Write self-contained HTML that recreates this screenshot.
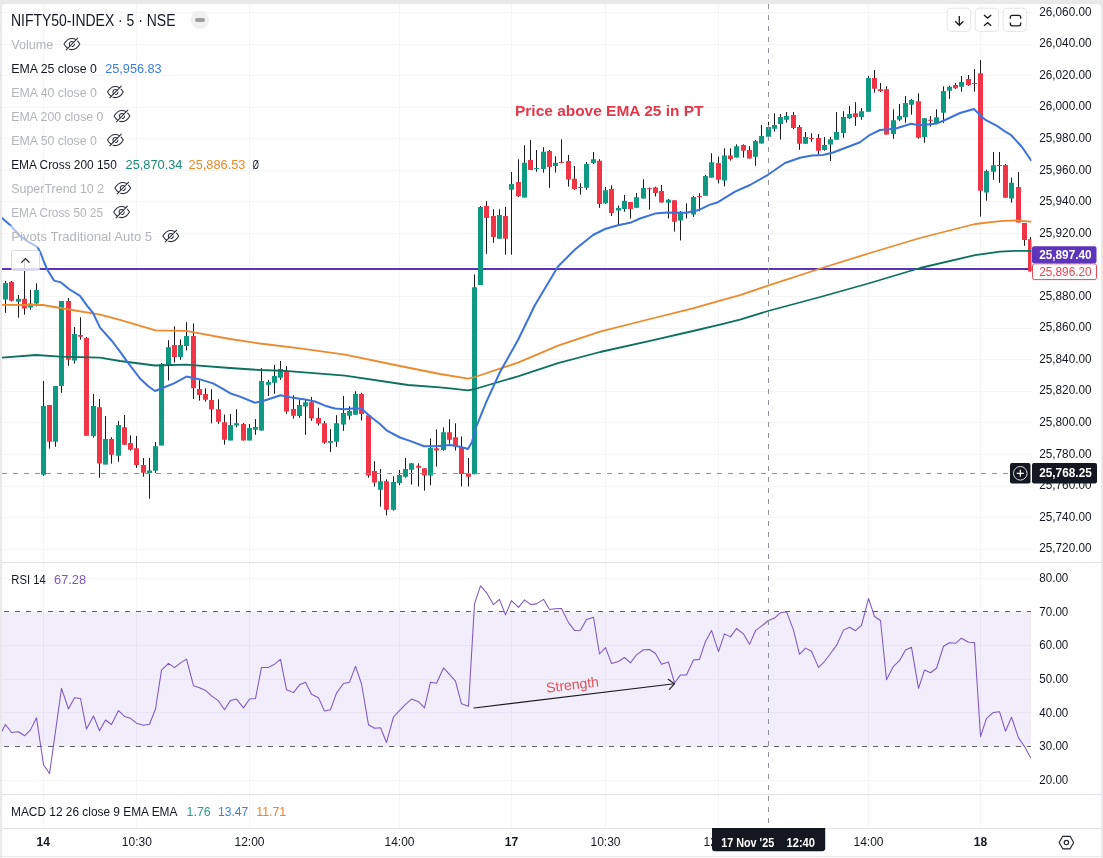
<!DOCTYPE html>
<html lang="en"><head><meta charset="utf-8"><title>NIFTY50-INDEX chart</title>
<style>
html,body{margin:0;padding:0;background:#e9e9e9;}
body{width:1103px;height:858px;overflow:hidden;font-family:'Liberation Sans', sans-serif;}
svg{display:block;}
text{font-family:'Liberation Sans', sans-serif;}
</style></head><body>
<svg width="1103" height="858" viewBox="0 0 1103 858">
<rect x="0" y="0" width="1103" height="858" fill="#e9e9e9"/>
<rect x="2" y="4" width="1099" height="852.5" rx="3.5" ry="3.5" fill="#ffffff"/>
<rect x="2" y="840" width="1099" height="18" fill="#ffffff"/>
<g stroke="#f5f5f5" stroke-width="1" shape-rendering="crispEdges">
<line x1="43.5" y1="4" x2="43.5" y2="828"/>
<line x1="136.5" y1="4" x2="136.5" y2="828"/>
<line x1="249.5" y1="4" x2="249.5" y2="828"/>
<line x1="399.5" y1="4" x2="399.5" y2="828"/>
<line x1="511.5" y1="4" x2="511.5" y2="828"/>
<line x1="605.5" y1="4" x2="605.5" y2="828"/>
<line x1="718.5" y1="4" x2="718.5" y2="828"/>
<line x1="868.5" y1="4" x2="868.5" y2="828"/>
<line x1="980.5" y1="4" x2="980.5" y2="828"/>
<line x1="2" y1="12.5" x2="1031.5" y2="12.5"/>
<line x1="2" y1="44.5" x2="1031.5" y2="44.5"/>
<line x1="2" y1="75.5" x2="1031.5" y2="75.5"/>
<line x1="2" y1="107.5" x2="1031.5" y2="107.5"/>
<line x1="2" y1="138.5" x2="1031.5" y2="138.5"/>
<line x1="2" y1="170.5" x2="1031.5" y2="170.5"/>
<line x1="2" y1="201.5" x2="1031.5" y2="201.5"/>
<line x1="2" y1="233.5" x2="1031.5" y2="233.5"/>
<line x1="2" y1="265.5" x2="1031.5" y2="265.5"/>
<line x1="2" y1="296.5" x2="1031.5" y2="296.5"/>
<line x1="2" y1="328.5" x2="1031.5" y2="328.5"/>
<line x1="2" y1="359.5" x2="1031.5" y2="359.5"/>
<line x1="2" y1="391.5" x2="1031.5" y2="391.5"/>
<line x1="2" y1="422.5" x2="1031.5" y2="422.5"/>
<line x1="2" y1="454.5" x2="1031.5" y2="454.5"/>
<line x1="2" y1="486.5" x2="1031.5" y2="486.5"/>
<line x1="2" y1="517.5" x2="1031.5" y2="517.5"/>
<line x1="2" y1="549.5" x2="1031.5" y2="549.5"/>
<line x1="2" y1="578.5" x2="1031.5" y2="578.5"/>
<line x1="2" y1="645.5" x2="1031.5" y2="645.5"/>
<line x1="2" y1="679.5" x2="1031.5" y2="679.5"/>
<line x1="2" y1="712.5" x2="1031.5" y2="712.5"/>
<line x1="2" y1="780.5" x2="1031.5" y2="780.5"/>
</g>
<rect x="2" y="611.89" width="1029" height="134.76" fill="#f1edfa"/>
<g stroke="#e8e4f3" stroke-width="1" shape-rendering="crispEdges">
<line x1="2" y1="645.5" x2="1031" y2="645.5"/>
<line x1="2" y1="679.5" x2="1031" y2="679.5"/>
<line x1="2" y1="712.5" x2="1031" y2="712.5"/>
<line x1="43.5" y1="611.89" x2="43.5" y2="746.65"/>
<line x1="136.5" y1="611.89" x2="136.5" y2="746.65"/>
<line x1="249.5" y1="611.89" x2="249.5" y2="746.65"/>
<line x1="399.5" y1="611.89" x2="399.5" y2="746.65"/>
<line x1="511.5" y1="611.89" x2="511.5" y2="746.65"/>
<line x1="605.5" y1="611.89" x2="605.5" y2="746.65"/>
<line x1="718.5" y1="611.89" x2="718.5" y2="746.65"/>
<line x1="868.5" y1="611.89" x2="868.5" y2="746.65"/>
<line x1="980.5" y1="611.89" x2="980.5" y2="746.65"/>
</g>
<g stroke="#5d5f66" stroke-width="1" stroke-dasharray="5 6" shape-rendering="crispEdges">
<line x1="3.5" y1="611.5" x2="1031" y2="611.5"/>
<line x1="3.5" y1="746.5" x2="1031" y2="746.5"/>
</g>
<g stroke="#e1e2e7" stroke-width="1" shape-rendering="crispEdges">
<line x1="2" y1="562.5" x2="1101" y2="562.5"/>
<line x1="2" y1="794.5" x2="1101" y2="794.5"/>
<line x1="2" y1="828.5" x2="1101" y2="828.5"/>
<line x1="2" y1="856.5" x2="1101" y2="856.5" stroke="#e9e9ec"/>
</g>
<defs><clipPath id="cm"><rect x="2" y="4" width="1029.5" height="558"/></clipPath>
<clipPath id="cr"><rect x="2" y="563" width="1029.5" height="231"/></clipPath></defs>
<line x1="2" y1="269" x2="1031.5" y2="269" stroke="#5c33b8" stroke-width="2"/>
<g clip-path="url(#cm)">
<path d="M5.5 280.9V312.9M11.5 281V301.5M18.5 295V317.7M24.5 259V314.7M30.5 290V309.7M36.5 283.3V306.4M43.5 381V475.8M49.5 405V448.6M55.5 386V446.7M61.5 301V392.8M68.5 298V365.8M74.5 327V363.6M80.5 317.3V339.7M86.5 337V435.8M93.5 394V437.6M99.5 399V477.7M105.5 416V464.5M111.5 437.3V463.6M118.5 421V461.8M124.5 415V444.8M130.5 435.3V450.7M136.5 436V468M143.5 458V476.7M149.5 458V498.7M155.5 442V472.8M161.5 363V445.5M168.5 340.2V380.5M174.5 326.3V362.6M180.5 339.4V359.8M186.5 322.2V350.5M193.5 323.4V399M199.5 380.2V400.6M205.5 388.3V401.7M211.5 389.2V423.4M218.5 399.4V423.8M224.5 414.5V444.6M230.5 414V440.4M236.5 409.2V427.4M243.5 423V440.4M249.5 424V440.4M255.5 419V434.8M261.5 368V430.6M268.5 379.9V396M274.5 364.9V393.8M280.5 361V379.9M286.5 365.9V413.8M293.5 395.2V418.6M299.5 399.4V417.9M305.5 400V434.8M311.5 397V420.8M318.5 407.8V425.6M324.5 421V443.8M330.5 429.2V451.9M336.5 415.2V446.8M343.5 396V430.8M349.5 406.2V419.6M355.5 391.2V414.7M361.5 392.8V420.6M368.5 415.2V477.7M374.5 461.2V486.5M380.5 469V506.6M386.5 479.3V515.5M393.5 476.4V510.6M399.5 470V485.3M405.5 458V477.7M411.5 463.3V484.5M418.5 463.3V486.5M424.5 468.2V490.7M430.5 438.4V485.3M436.5 429.4V466.6M443.5 427.4V450.8M449.5 419.3V443.7M455.5 423.3V450.6M461.5 436.4V486.5M468.5 458V486.5M474.5 274.5V474.2M480.5 206V285M486.5 201.2V253.9M493.5 209.3V242.8M499.5 209.3V238.7M505.5 206.9V254.7M511.5 172V254.7M518.5 159.3V197M524.5 145.2V197.6M530.5 139.9V170M536.5 150V171.8M543.5 147.3V172.6M549.5 150V187.8M555.5 156.3V172.6M561.5 139.3V163M568.5 155V186.5M574.5 166V189.8M580.5 183.2V194.7M586.5 162V189.8M593.5 152V164M599.5 159.2V207.8M605.5 187V204M611.5 185.3V216M618.5 205.6V225.2M624.5 195V211.7M630.5 202V218.6M636.5 193.1V207.7M643.5 179.3V198.6M649.5 187.5V209.5M655.5 186.7V196.5M661.5 185V202.5M668.5 199V218.5M674.5 200.2V231.6M680.5 211V240.5M686.5 203.3V218.5M693.5 196V216.9M699.5 193.2V211.2M705.5 175V195.7M711.5 153.2V177.7M718.5 156.5V183.4M724.5 148.3V186.4M730.5 148.3V160.6M736.5 144.3V157.6M743.5 144.3V157.6M749.5 146.2V158.6M755.5 140V165.8M761.5 125V143.6M768.5 121.8V140.5M774.5 113.3V131.6M780.5 114V139.7M786.5 112V122.6M793.5 112V129M799.5 125V149.8M805.5 132V143.8M811.5 133.2V141.7M818.5 134V154.4M824.5 137V150.8M830.5 137V161M836.5 112V139.7M843.5 111.2V137.8M849.5 106V119M855.5 102.2V125.9M861.5 108V119.8M868.5 75.8V111.7M874.5 70V92.7M880.5 83V92M886.5 86.3V134.6M893.5 109.3V138.8M899.5 104V121M905.5 96V122.8M911.5 98.9V114.6M918.5 93.3V138.8M924.5 118.2V142.7M930.5 116V126.6M936.5 109.3V123M943.5 86.3V122.8M949.5 85.8V98.8M955.5 83V89M961.5 76V91.7M968.5 75V85.8M974.5 69V91.7M980.5 60.1V216.6M986.5 169.7V200.7M993.5 152V179.9M999.5 152V182.8M1005.5 164V197.7M1011.5 177.6V202.6M1018.5 172V222.5M1024.5 223V245.8M1030.5 237V271.5" stroke="#1b1b1f" stroke-width="1" fill="none"/>
<path d="M3 282.9h5V299.5h-5zM16 298.8h5V301.8h-5zM28 303.6h5V307.6h-5zM34 290h5V303.6h-5zM41 406h5V474.7h-5zM53 386h5V441.8h-5zM59 301h5V386h-5zM72 334h5V360.6h-5zM91 406h5V436h-5zM103 439h5V464.5h-5zM116 425h5V455.8h-5zM147 470.4h5V473h-5zM153 446.2h5V470.7h-5zM159 364.3h5V445.5h-5zM166 347.2h5V365.2h-5zM178 345h5V357h-5zM184 336h5V346h-5zM228 425h5V440.4h-5zM234 423.2h5V425.6h-5zM247 428h5V440.4h-5zM253 427h5V429.8h-5zM259 381h5V430.6h-5zM266 382h5V384.8h-5zM272 376h5V382.7h-5zM278 369h5V377.8h-5zM297 405h5V416h-5zM303 402.2h5V406.4h-5zM328 441h5V442.8h-5zM334 423.3h5V441.8h-5zM341 413h5V424.5h-5zM347 411h5V415.7h-5zM353 394h5V414.7h-5zM378 481.3h5V489.7h-5zM391 482h5V509.8h-5zM397 475h5V482.9h-5zM403 469h5V476.7h-5zM409 463.3h5V469.8h-5zM428 448h5V475.6h-5zM441 432.3h5V450h-5zM472 287.2h5V474.2h-5zM478 206.9h5V285h-5zM497 215h5V238.7h-5zM509 184h5V189.8h-5zM522 162.8h5V197.6h-5zM534 168h5V169h-5zM541 151.7h5V169h-5zM553 162.8h5V166h-5zM578 187h5V188h-5zM584 164h5V187.8h-5zM591 159.2h5V163h-5zM603 190.2h5V203.2h-5zM616 208h5V210.5h-5zM622 200.8h5V209h-5zM634 197.2h5V207.7h-5zM641 188h5V198.6h-5zM666 199.7h5V202.7h-5zM678 212.8h5V220.6h-5zM684 212.3h5V213.3h-5zM691 197h5V214.4h-5zM703 176h5V195.7h-5zM709 162.2h5V177.7h-5zM722 155.4h5V180.6h-5zM734 146.2h5V157.6h-5zM753 141h5V156.8h-5zM759 136h5V143.6h-5zM766 127h5V136.8h-5zM772 125h5V128.8h-5zM778 116.9h5V123.9h-5zM784 116h5V119.8h-5zM803 137h5V143.8h-5zM822 145h5V150h-5zM828 139.2h5V144.6h-5zM834 132h5V139.7h-5zM841 116.9h5V132.9h-5zM847 114h5V118.2h-5zM859 111.2h5V116.9h-5zM866 78h5V111.7h-5zM891 120.3h5V133.9h-5zM897 116h5V119.8h-5zM903 103h5V117.2h-5zM909 99.9h5V104.8h-5zM922 118.2h5V137h-5zM934 117.2h5V123h-5zM941 91h5V112.8h-5zM947 86.8h5V90.8h-5zM959 82h5V86.8h-5zM984 171h5V192.4h-5zM991 165.3h5V171.8h-5zM997 165h5V166h-5zM1009 182.8h5V198.6h-5z" fill="#0d9982"/>
<path d="M9 281.8h5V300.8h-5zM22 298.8h5V308.6h-5zM47 405h5V441.8h-5zM66 301h5V359.7h-5zM78 335h5V336.7h-5zM84 338h5V435.8h-5zM97 407.3h5V463.6h-5zM109 439h5V454.7h-5zM122 427.3h5V444.8h-5zM128 443h5V449.7h-5zM134 448.3h5V465h-5zM141 465h5V472.8h-5zM172 345h5V357h-5zM191 336h5V388.3h-5zM197 389h5V394.9h-5zM203 394h5V399.8h-5zM209 400h5V409.6h-5zM216 409.2h5V421.8h-5zM222 422.3h5V439.8h-5zM241 424h5V440.4h-5zM284 370.8h5V411.6h-5zM291 409h5V415.8h-5zM309 402.2h5V418.6h-5zM316 418h5V423.6h-5zM322 423.2h5V442.8h-5zM359 394h5V414h-5zM366 415.2h5V475.6h-5zM372 471h5V482.6h-5zM384 481.3h5V509.8h-5zM416 465.8h5V467.7h-5zM422 468.2h5V475.6h-5zM434 448.3h5V450.6h-5zM447 432.3h5V439.7h-5zM453 437.2h5V446.2h-5zM459 447h5V474h-5zM466 473.4h5V476.7h-5zM484 206h5V218h-5zM491 215.9h5V237h-5zM503 215.9h5V238.7h-5zM516 182h5V196.3h-5zM528 160h5V170h-5zM547 151h5V167h-5zM559 162h5V163h-5zM566 160.9h5V179.6h-5zM572 178.8h5V189h-5zM597 160.8h5V204h-5zM609 189h5V213h-5zM628 202h5V209h-5zM647 188.3h5V189.3h-5zM653 187.5h5V193h-5zM659 191h5V202.5h-5zM672 200.2h5V221.8h-5zM697 196h5V197h-5zM716 163h5V179.8h-5zM728 155.4h5V159h-5zM741 145h5V150.8h-5zM747 150h5V158.6h-5zM791 115h5V128h-5zM797 127h5V143.8h-5zM809 138h5V139h-5zM816 138h5V150.8h-5zM853 113.3h5V116.9h-5zM872 78h5V88.7h-5zM878 89.3h5V91h-5zM884 89.3h5V134.6h-5zM916 101.3h5V137.8h-5zM928 119.8h5V120.8h-5zM953 85h5V88.2h-5zM966 79h5V84.9h-5zM972 83h5V84h-5zM978 73.2h5V190.7h-5zM1003 165h5V197.7h-5zM1016 186.9h5V222.5h-5zM1022 223h5V240h-5zM1028 239.3h5V271.5h-5z" fill="#f03546"/>
<path d="M2 304.8 L43 305 L60 308 L100 314.7 L120 319.8 L155.6 330.4 L186 330.9 L230 339 L260 343.5 L300 348.4 L345 354.7 L400 366 L440 374 L468 378.7 L475 377 L518 362.6 L558 345.7 L600 331.7 L650 319 L693 308.4 L720 300.6 L740 295.2 L768 285.7 L822 268 L870 253 L920 238 L975 224 L1000 221.2 L1015 220.4 L1031 221.7" fill="none" stroke="#ec8a2c" stroke-width="1.8" stroke-linejoin="round" stroke-linecap="round"/>
<path d="M2 357.6 L36 355 L60 356.7 L100 357.6 L120 361 L155 365.5 L186 364.7 L230 368 L260 370 L285 370.8 L320 373.6 L345 375.7 L408 385 L440 387.4 L450 388.3 L468 390.3 L475 389 L518 376.3 L558 363.2 L600 352 L650 340.8 L693 331 L720 324.7 L740 319.7 L768 311 L822 296.5 L870 283 L920 268 L975 255.2 L1000 251.7 L1015 250.9 L1031 250.9" fill="none" stroke="#0c715e" stroke-width="1.8" stroke-linejoin="round" stroke-linecap="round"/>
<path d="M2 218 L10 225 L20 236 L27 241 L37.5 247 L41 254 L44 262 L47.5 270 L54 280.6 L61 282.4 L69 289 L80 295.8 L87 305.6 L93 313 L100 327.6 L112 341 L120 351.6 L127 361.4 L140 378.5 L148 386 L155 391 L165 387 L174 383.4 L186.5 376.6 L200 379.4 L213 383.4 L222 388.3 L230 393.2 L240 396.6 L255 402.7 L262 401.3 L270 398.7 L280.5 395.2 L290 397.3 L305 399.4 L315 401.5 L325 405.7 L335 408.5 L345 409.2 L355 408.3 L362 409 L370 416.3 L380 424 L387 430.7 L400 437.5 L412 441.6 L424 446.2 L437 446.2 L450 444.9 L460 446.7 L468 449 L472 442 L475 430 L486 402.6 L500 372 L518 340 L535 305 L558 266.5 L575 249.5 L593 235 L605 229 L618 225.2 L630 222.8 L640 218.5 L655 213.6 L667 212.5 L686 212.8 L698 210.3 L710 204.6 L718 202.2 L735 191.6 L750 185 L768 174.8 L785 163 L800 157.7 L812 155.6 L823 155 L833 152.5 L845 148 L860 142.2 L870 134.8 L880 130 L895 128.7 L911 123.8 L920 125.2 L937 123.4 L945 120 L960 113 L974 109 L981 116 L985 119.6 L997 125.9 L1004 130.8 L1011 135 L1022 147 L1031 160.3" fill="none" stroke="#3b72dc" stroke-width="2" stroke-linejoin="round" stroke-linecap="round"/>
</g>
<g clip-path="url(#cr)">
<path d="M2 731.22 L5.5 724.52 L11.5 732.56 L18.5 731.76 L24.5 735.78 L30.5 729.88 L36.5 717.82 L43.5 764.73 L49.5 773.58 L55.5 731.22 L61.5 688.32 L68.5 708.97 L74.5 697.71 L80.5 698.51 L86.5 729.08 L93.5 715.94 L99.5 730.68 L105.5 719.96 L111.5 724.52 L118.5 710.58 L124.5 716.47 L130.5 718.35 L136.5 723.18 L143.5 725.32 L149.5 724.25 L155.5 708.97 L161.5 670.09 L168.5 663.39 L174.5 667.68 L180.5 662.86 L186.5 659.1 L193.5 685.64 L199.5 687.79 L205.5 690.47 L211.5 695.83 L218.5 700.92 L224.5 709.77 L230.5 700.39 L236.5 699.05 L243.5 707.9 L249.5 699.05 L255.5 698.51 L261.5 667.41 L268.5 667.41 L274.5 664.2 L280.5 659.37 L286.5 689.66 L293.5 692.61 L299.5 684.84 L305.5 682.16 L311.5 694.22 L318.5 697.71 L324.5 711.11 L330.5 709.77 L336.5 693.15 L343.5 683.5 L349.5 682.16 L355.5 666.34 L361.5 683.77 L368.5 724.79 L374.5 728.27 L380.5 727.73 L386.5 742.48 L393.5 717.01 L399.5 710.58 L405.5 704.41 L411.5 699.05 L418.5 701.73 L424.5 707.9 L430.5 682.16 L436.5 683.23 L443.5 667.95 L449.5 674.38 L455.5 681.09 L461.5 703.87 L468.5 706.29 L474.5 603.87 L480.5 585.91 L486.5 592.61 L493.5 604.68 L499.5 599.32 L505.5 614.87 L511.5 600.66 L518.5 607.36 L524.5 599.85 L530.5 604.41 L536.5 603.87 L543.5 599.32 L549.5 609.5 L555.5 608.7 L561.5 608.43 L568.5 622.64 L574.5 630.42 L580.5 630.15 L586.5 619.42 L593.5 617.28 L599.5 654.01 L605.5 647.57 L611.5 663.39 L618.5 661.51 L624.5 657.49 L630.5 662.86 L636.5 654.81 L643.5 649.72 L649.5 649.45 L655.5 653.47 L661.5 664.2 L668.5 662.05 L674.5 682.96 L680.5 674.92 L686.5 674.92 L693.5 659.91 L699.5 659.37 L705.5 641.41 L711.5 630.42 L718.5 651.6 L724.5 633.9 L730.5 636.85 L736.5 628.54 L743.5 633.9 L749.5 644.36 L755.5 630.68 L761.5 626.13 L768.5 620.5 L774.5 618.08 L780.5 612.72 L786.5 611.65 L793.5 630.15 L799.5 654.28 L805.5 648.11 L811.5 651.33 L818.5 667.41 L824.5 661.51 L830.5 653.47 L836.5 645.43 L843.5 630.15 L849.5 627.2 L855.5 630.68 L861.5 625.32 L868.5 598.51 L874.5 616.47 L880.5 620.5 L886.5 679.75 L893.5 666.34 L899.5 660.71 L905.5 649.99 L911.5 647.31 L918.5 688.32 L924.5 670.09 L930.5 672.77 L936.5 668.22 L943.5 646.23 L949.5 642.75 L955.5 643.28 L961.5 638.19 L968.5 642.21 L974.5 642.48 L980.5 736.58 L986.5 718.35 L993.5 712.45 L999.5 711.65 L1005.5 731.22 L1011.5 717.28 L1018.5 737.92 L1024.5 746.5 L1030.5 757.49" fill="none" stroke="#7e57c2" stroke-width="1.05" stroke-linejoin="round" stroke-linecap="round"/>
</g>
<g stroke="#1b1b1f" stroke-width="1.1" fill="none" stroke-linecap="round">
<path d="M474 708L674.2 683.8"/>
<path d="M668.2 679.3L674.4 683.8L669.4 689.4"/>
</g>
<text x="572.5" y="689.5" font-size="14" fill="#e0525a" text-anchor="middle" textLength="53" lengthAdjust="spacingAndGlyphs" transform="rotate(-6.9 572.5 685)">Strength</text>
<g stroke="#8f929b" stroke-width="1" stroke-dasharray="5 6" shape-rendering="crispEdges">
<line x1="768.5" y1="4" x2="768.5" y2="828"/>
<line x1="2" y1="473.5" x2="1010" y2="473.5"/>
</g>
<text x="515" y="115.9" font-size="14.6" font-weight="bold" fill="#e2384a" textLength="188.5" lengthAdjust="spacingAndGlyphs">Price above EMA 25 in PT</text>
<g font-size="12" fill="#131722">
<text x="1039.2" y="15.7" textLength="52.4" lengthAdjust="spacingAndGlyphs">26,060.00</text>
<text x="1039.2" y="47.26" textLength="52.4" lengthAdjust="spacingAndGlyphs">26,040.00</text>
<text x="1039.2" y="78.82" textLength="52.4" lengthAdjust="spacingAndGlyphs">26,020.00</text>
<text x="1039.2" y="110.38" textLength="52.4" lengthAdjust="spacingAndGlyphs">26,000.00</text>
<text x="1039.2" y="141.94" textLength="52.4" lengthAdjust="spacingAndGlyphs">25,980.00</text>
<text x="1039.2" y="173.5" textLength="52.4" lengthAdjust="spacingAndGlyphs">25,960.00</text>
<text x="1039.2" y="205.06" textLength="52.4" lengthAdjust="spacingAndGlyphs">25,940.00</text>
<text x="1039.2" y="236.62" textLength="52.4" lengthAdjust="spacingAndGlyphs">25,920.00</text>
<text x="1039.2" y="268.18" textLength="52.4" lengthAdjust="spacingAndGlyphs">25,900.00</text>
<text x="1039.2" y="299.74" textLength="52.4" lengthAdjust="spacingAndGlyphs">25,880.00</text>
<text x="1039.2" y="331.3" textLength="52.4" lengthAdjust="spacingAndGlyphs">25,860.00</text>
<text x="1039.2" y="362.86" textLength="52.4" lengthAdjust="spacingAndGlyphs">25,840.00</text>
<text x="1039.2" y="394.42" textLength="52.4" lengthAdjust="spacingAndGlyphs">25,820.00</text>
<text x="1039.2" y="425.98" textLength="52.4" lengthAdjust="spacingAndGlyphs">25,800.00</text>
<text x="1039.2" y="457.54" textLength="52.4" lengthAdjust="spacingAndGlyphs">25,780.00</text>
<text x="1039.2" y="489.1" textLength="52.4" lengthAdjust="spacingAndGlyphs">25,760.00</text>
<text x="1039.2" y="520.66" textLength="52.4" lengthAdjust="spacingAndGlyphs">25,740.00</text>
<text x="1039.2" y="552.22" textLength="52.4" lengthAdjust="spacingAndGlyphs">25,720.00</text>
<text x="1039.3" y="582" textLength="29" lengthAdjust="spacingAndGlyphs">80.00</text>
<text x="1039.3" y="615.69" textLength="29" lengthAdjust="spacingAndGlyphs">70.00</text>
<text x="1039.3" y="649.38" textLength="29" lengthAdjust="spacingAndGlyphs">60.00</text>
<text x="1039.3" y="683.07" textLength="29" lengthAdjust="spacingAndGlyphs">50.00</text>
<text x="1039.3" y="716.76" textLength="29" lengthAdjust="spacingAndGlyphs">40.00</text>
<text x="1039.3" y="750.45" textLength="29" lengthAdjust="spacingAndGlyphs">30.00</text>
<text x="1039.3" y="784.14" textLength="29" lengthAdjust="spacingAndGlyphs">20.00</text>
</g>
<rect x="1032" y="246.3" width="64.5" height="17" rx="2" fill="#5c35bb"/>
<text x="1039.2" y="258.9" font-size="12" font-weight="bold" fill="#ffffff" textLength="52.4" lengthAdjust="spacingAndGlyphs">25,897.40</text>
<rect x="1032.5" y="263.8" width="64" height="15.8" rx="2" fill="#ffffff" stroke="#e24a59" stroke-width="1"/>
<text x="1039.2" y="275.8" font-size="12" fill="#e8434f" textLength="52.4" lengthAdjust="spacingAndGlyphs">25,896.20</text>
<rect x="1010" y="463" width="20.5" height="20.6" rx="2" fill="#131722"/>
<circle cx="1020.3" cy="473.3" r="6.8" fill="none" stroke="#d8d9dd" stroke-width="1"/>
<path d="M1016.8 473.3h7M1020.3 469.8v7" stroke="#ffffff" stroke-width="1.2" fill="none"/>
<rect x="1032" y="463" width="65" height="20.6" rx="2" fill="#131722"/>
<text x="1039.2" y="477.2" font-size="12" font-weight="bold" fill="#ffffff" textLength="52.6" lengthAdjust="spacingAndGlyphs">25,768.25</text>
<text x="11" y="25.9" font-size="15.6" fill="#131722" textLength="164.5" lengthAdjust="spacingAndGlyphs">NIFTY50-INDEX · 5 · NSE</text>
<circle cx="199.9" cy="19.9" r="9.1" fill="#f0f0f0"/>
<rect x="195" y="18" width="10" height="4" rx="2" fill="#9c9c9c"/>
<rect x="8" y="225.5" width="150" height="22" fill="#ffffff" fill-opacity="0.55"/>
<g font-size="12.5">
<text x="11.2" y="48.7" fill="#b2b4b9" textLength="42.1" lengthAdjust="spacingAndGlyphs">Volume</text>
<text x="11.2" y="72.7" fill="#131722" textLength="85.6" lengthAdjust="spacingAndGlyphs">EMA 25 close 0</text>
<text x="105.2" y="72.7" fill="#3b7de0" textLength="56.5" lengthAdjust="spacingAndGlyphs">25,956.83</text>
<text x="11.2" y="96.7" fill="#b2b4b9" textLength="85.6" lengthAdjust="spacingAndGlyphs">EMA 40 close 0</text>
<text x="11.2" y="120.7" fill="#b2b4b9" textLength="92.2" lengthAdjust="spacingAndGlyphs">EMA 200 close 0</text>
<text x="11.2" y="144.7" fill="#b2b4b9" textLength="85.6" lengthAdjust="spacingAndGlyphs">EMA 50 close 0</text>
<text x="11.2" y="168.7" fill="#131722" textLength="105.6" lengthAdjust="spacingAndGlyphs">EMA Cross 200 150</text>
<text x="125.5" y="168.7" fill="#1b8a78" textLength="57" lengthAdjust="spacingAndGlyphs">25,870.34</text>
<text x="188.6" y="168.7" fill="#e98a2b" textLength="56.8" lengthAdjust="spacingAndGlyphs">25,886.53</text>
<text x="252.6" y="168.7" fill="#131722" textLength="6.4" lengthAdjust="spacingAndGlyphs">Ø</text>
<text x="11.2" y="192.7" fill="#b2b4b9" textLength="93" lengthAdjust="spacingAndGlyphs">SuperTrend 10 2</text>
<text x="11.2" y="216.7" fill="#b2b4b9" textLength="91.8" lengthAdjust="spacingAndGlyphs">EMA Cross 50 25</text>
<text x="11.2" y="240.7" fill="#b2b4b9" textLength="141" lengthAdjust="spacingAndGlyphs">Pivots Traditional Auto 5</text>
</g>
<g transform="translate(71.9 44)" stroke="#2a2e39" stroke-width="1.05" fill="none" stroke-linecap="round">
<path d="M-7.9 0Q-4.6 -5.6 0 -5.6Q4.6 -5.6 7.9 0Q4.6 5.6 0 5.6Q-4.6 5.6 -7.9 0Z"/>
<circle cx="0" cy="0" r="2.5"/>
<path d="M-4.6 6.2L6.4 -5.2" stroke="#ffffff" stroke-width="1.2"/>
<path d="M-5.6 5.8L5.8 -5.9"/>
</g>
<g transform="translate(115.4 92)" stroke="#2a2e39" stroke-width="1.05" fill="none" stroke-linecap="round">
<path d="M-7.9 0Q-4.6 -5.6 0 -5.6Q4.6 -5.6 7.9 0Q4.6 5.6 0 5.6Q-4.6 5.6 -7.9 0Z"/>
<circle cx="0" cy="0" r="2.5"/>
<path d="M-4.6 6.2L6.4 -5.2" stroke="#ffffff" stroke-width="1.2"/>
<path d="M-5.6 5.8L5.8 -5.9"/>
</g>
<g transform="translate(122 116)" stroke="#2a2e39" stroke-width="1.05" fill="none" stroke-linecap="round">
<path d="M-7.9 0Q-4.6 -5.6 0 -5.6Q4.6 -5.6 7.9 0Q4.6 5.6 0 5.6Q-4.6 5.6 -7.9 0Z"/>
<circle cx="0" cy="0" r="2.5"/>
<path d="M-4.6 6.2L6.4 -5.2" stroke="#ffffff" stroke-width="1.2"/>
<path d="M-5.6 5.8L5.8 -5.9"/>
</g>
<g transform="translate(115.4 140)" stroke="#2a2e39" stroke-width="1.05" fill="none" stroke-linecap="round">
<path d="M-7.9 0Q-4.6 -5.6 0 -5.6Q4.6 -5.6 7.9 0Q4.6 5.6 0 5.6Q-4.6 5.6 -7.9 0Z"/>
<circle cx="0" cy="0" r="2.5"/>
<path d="M-4.6 6.2L6.4 -5.2" stroke="#ffffff" stroke-width="1.2"/>
<path d="M-5.6 5.8L5.8 -5.9"/>
</g>
<g transform="translate(122.8 188)" stroke="#2a2e39" stroke-width="1.05" fill="none" stroke-linecap="round">
<path d="M-7.9 0Q-4.6 -5.6 0 -5.6Q4.6 -5.6 7.9 0Q4.6 5.6 0 5.6Q-4.6 5.6 -7.9 0Z"/>
<circle cx="0" cy="0" r="2.5"/>
<path d="M-4.6 6.2L6.4 -5.2" stroke="#ffffff" stroke-width="1.2"/>
<path d="M-5.6 5.8L5.8 -5.9"/>
</g>
<g transform="translate(121.6 212)" stroke="#2a2e39" stroke-width="1.05" fill="none" stroke-linecap="round">
<path d="M-7.9 0Q-4.6 -5.6 0 -5.6Q4.6 -5.6 7.9 0Q4.6 5.6 0 5.6Q-4.6 5.6 -7.9 0Z"/>
<circle cx="0" cy="0" r="2.5"/>
<path d="M-4.6 6.2L6.4 -5.2" stroke="#ffffff" stroke-width="1.2"/>
<path d="M-5.6 5.8L5.8 -5.9"/>
</g>
<g transform="translate(170.8 236)" stroke="#2a2e39" stroke-width="1.05" fill="none" stroke-linecap="round">
<path d="M-7.9 0Q-4.6 -5.6 0 -5.6Q4.6 -5.6 7.9 0Q4.6 5.6 0 5.6Q-4.6 5.6 -7.9 0Z"/>
<circle cx="0" cy="0" r="2.5"/>
<path d="M-4.6 6.2L6.4 -5.2" stroke="#ffffff" stroke-width="1.2"/>
<path d="M-5.6 5.8L5.8 -5.9"/>
</g>
<rect x="11.5" y="250.5" width="28" height="20" rx="2.5" fill="#ffffff" fill-opacity="0.8" stroke="#dadbdf" stroke-width="1"/>
<path d="M21.3 262.6L25.4 258.5L29.5 262.6" stroke="#1b1b1f" stroke-width="1.2" fill="none"/>
<rect x="947.2" y="8.2" width="23.4" height="23.2" rx="4" fill="#ffffff" stroke="#e4e5e8" stroke-width="1"/>
<rect x="975.2" y="8.2" width="23.4" height="23.2" rx="4" fill="#ffffff" stroke="#e4e5e8" stroke-width="1"/>
<rect x="1003.2" y="8.2" width="23.4" height="23.2" rx="4" fill="#ffffff" stroke="#e4e5e8" stroke-width="1"/>
<g stroke="#1b1b1f" stroke-width="1.3" fill="none">
<path d="M959.3 16V25.2M955.2 21.2L959.3 25.3L963.4 21.2"/>
<path d="M984 15L987.6 18.1L991.2 15M984 25.8L987.6 22.7L991.2 25.8"/>
<path d="M1010.3 18.7V17.3Q1010.3 15.3 1012.3 15.3H1018.7Q1020.7 15.3 1020.7 17.3V18.7M1010.3 22.4V23.8Q1010.3 25.8 1012.3 25.8H1018.7Q1020.7 25.8 1020.7 23.8V22.4"/>
</g>
<g font-size="12.5">
<text x="11.3" y="584" fill="#131722" textLength="34.4" lengthAdjust="spacingAndGlyphs">RSI 14</text>
<text x="54.1" y="584" fill="#7e57c2" textLength="32" lengthAdjust="spacingAndGlyphs">67.28</text>
<text x="11" y="816.4" fill="#131722" textLength="166.4" lengthAdjust="spacingAndGlyphs">MACD 12 26 close 9 EMA EMA</text>
<text x="186.6" y="816.4" fill="#2f9e88" textLength="24.2" lengthAdjust="spacingAndGlyphs">1.76</text>
<text x="218" y="816.4" fill="#3b82e0" textLength="30.3" lengthAdjust="spacingAndGlyphs">13.47</text>
<text x="256.2" y="816.4" fill="#ea8232" textLength="30" lengthAdjust="spacingAndGlyphs">11.71</text>
</g>
<g font-size="12" fill="#131722" text-anchor="middle">
<text x="43.3" y="846.2" font-weight="bold">14</text>
<text x="136.8" y="846.2">10:30</text>
<text x="249.5" y="846.2">12:00</text>
<text x="399.5" y="846.2">14:00</text>
<text x="511.5" y="846.2" font-weight="bold">17</text>
<text x="605.5" y="846.2">10:30</text>
<text x="718.5" y="846.2">12:00</text>
<text x="868.5" y="846.2">14:00</text>
<text x="980.5" y="846.2" font-weight="bold">18</text>
</g>
<path d="M712 828H825.2V848.3Q825.2 851.3 822.2 851.3H715Q712 851.3 712 848.3Z" fill="#131722"/>
<text x="721.2" y="846.9" font-size="12" font-weight="bold" fill="#ffffff" textLength="53" lengthAdjust="spacingAndGlyphs">17 Nov '25</text>
<text x="786.5" y="846.9" font-size="12" font-weight="bold" fill="#ffffff" textLength="28.5" lengthAdjust="spacingAndGlyphs">12:40</text>
<g stroke="#1e222d" stroke-width="1.15" fill="none" stroke-linejoin="round">
<path d="M1059.1 842.5L1062.8 836.3H1070.1L1073.7 842.5L1070.1 848.8H1062.8Z"/>
<circle cx="1066.4" cy="842.5" r="2.2"/>
</g>
</svg>
</body></html>
